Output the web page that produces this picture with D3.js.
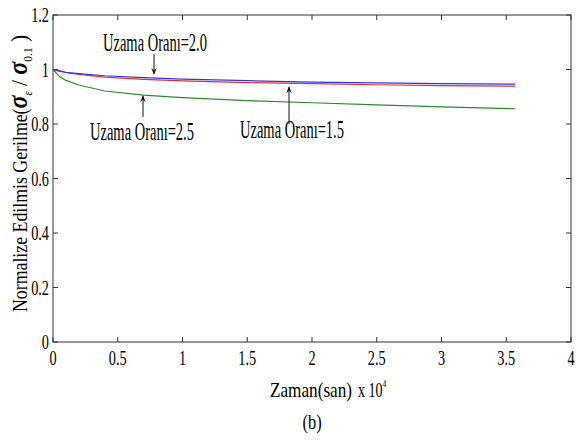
<!DOCTYPE html>
<html>
<head>
<meta charset="utf-8">
<script src="https://cdn.jsdelivr.net/npm/d3@7"></script>
<style>
body { margin: 0; background: #fff; }
</style>
</head>
<body>
<div id="chart"></div>
<script>
// zaman (x 10^4 san)
var zaman = [0, 0.05, 0.1, 0.2, 0.4, 0.7, 1.0, 1.5, 2.0, 2.5, 3.0, 3.57];
var oran20 = [1.0, 0.995, 0.99, 0.985, 0.977, 0.970, 0.965, 0.959, 0.954, 0.951, 0.948, 0.946];
var oran15 = [1.0, 0.994, 0.988, 0.982, 0.972, 0.964, 0.958, 0.952, 0.948, 0.944, 0.941, 0.939];
var oran25 = [1.0, 0.974, 0.96, 0.943, 0.921, 0.906, 0.897, 0.886, 0.878, 0.870, 0.863, 0.856];
var xTicks = [0, 0.5, 1, 1.5, 2, 2.5, 3, 3.5, 4];
var yTicks = [0, 0.2, 0.4, 0.6, 0.8, 1, 1.2];

var W = 576, H = 441;
var pL = 53, pR = 571, pT = 15, pB = 342;

var svg = d3.select("#chart").append("svg")
    .attr("width", W)
    .attr("height", H)
    .attr("font-family", "'Liberation Serif', 'Times New Roman', serif");

var x = d3.scaleLinear().domain([0, 4]).range([pL, pR]);
var y = d3.scaleLinear().domain([0, 1.2]).range([pB, pT]);

// box
svg.append("rect")
    .attr("x", pL).attr("y", pT)
    .attr("width", pR - pL).attr("height", pB - pT)
    .attr("fill", "none").attr("stroke", "#333").attr("stroke-width", 1);

// ticks, inward on all four sides
var tk = 5;
svg.selectAll(".xtb").data(xTicks).enter().append("line")
    .attr("x1", d => x(d)).attr("x2", d => x(d))
    .attr("y1", pB).attr("y2", pB - tk)
    .attr("stroke", "#333");
svg.selectAll(".xtt").data(xTicks).enter().append("line")
    .attr("x1", d => x(d)).attr("x2", d => x(d))
    .attr("y1", pT).attr("y2", pT + tk)
    .attr("stroke", "#333");
svg.selectAll(".ytl").data(yTicks).enter().append("line")
    .attr("x1", pL).attr("x2", pL + tk)
    .attr("y1", d => y(d)).attr("y2", d => y(d))
    .attr("stroke", "#333");
svg.selectAll(".ytr").data(yTicks).enter().append("line")
    .attr("x1", pR).attr("x2", pR - tk)
    .attr("y1", d => y(d)).attr("y2", d => y(d))
    .attr("stroke", "#333");

// tick labels (condensed serif)
svg.selectAll(".xl").data(xTicks).enter().append("text")
    .attr("transform", d => "translate(" + x(d) + "," + 365 + ") scale(0.65,1)")
    .attr("text-anchor", "middle")
    .attr("font-size", 22)
    .text(d => d);
svg.selectAll(".yl").data(yTicks).enter().append("text")
    .attr("transform", d => "translate(" + (pL - 4) + "," + (y(d) + 7) + ") scale(0.65,1)")
    .attr("text-anchor", "end")
    .attr("font-size", 22)
    .text(d => d);

// lines
var line = d3.line()
    .x((d, i) => x(zaman[i]))
    .y(d => y(d));

svg.append("path").datum(oran25)
    .attr("d", line).attr("fill", "none")
    .attr("stroke", "#2f8a2f").attr("stroke-width", 1.2);
svg.append("path").datum(oran15)
    .attr("d", line).attr("fill", "none")
    .attr("stroke", "#e03030").attr("stroke-width", 1.2);
svg.append("path").datum(oran20)
    .attr("d", line).attr("fill", "none")
    .attr("stroke", "#3535e0").attr("stroke-width", 1.2);

// annotations
svg.append("defs").append("marker")
    .attr("id", "arr").attr("viewBox", "0 0 10 10")
    .attr("refX", 9).attr("refY", 5)
    .attr("markerWidth", 7).attr("markerHeight", 7)
    .attr("orient", "auto")
    .append("path").attr("d", "M0,1 L10,5 L0,9 L4,5 z").attr("fill", "#111");

function label(txt, tx, ty, ax, ay1, ay2) {
    svg.append("text")
        .attr("transform", "translate(" + tx + "," + ty + ") scale(0.58,1)")
        .attr("text-anchor", "middle")
        .attr("font-size", 25)
        .text(txt);
    svg.append("line")
        .attr("x1", ax).attr("x2", ax)
        .attr("y1", ay1).attr("y2", ay2)
        .attr("stroke", "#111").attr("stroke-width", 1)
        .attr("marker-end", "url(#arr)");
}
label("Uzama Oranı=2.0", 155, 51, 154, 54, 74);
label("Uzama Oranı=2.5", 142, 140, 143, 117, 96);
label("Uzama Oranı=1.5", 292, 138, 289, 124, 87);

// axis titles
svg.append("text")
    .attr("transform", "translate(" + 311 + "," + 397 + ") scale(0.86,1)")
    .attr("text-anchor", "middle")
    .attr("font-size", 20)
    .text("Zaman(san)");
var xt = svg.append("text")
    .attr("transform", "translate(" + 358 + "," + 397 + ") scale(0.7,1)")
    .attr("font-size", 20);
xt.append("tspan").text("x 10");
xt.append("tspan").attr("font-size", 11).attr("dy", -10).text("4");

svg.append("text")
    .attr("transform", "translate(" + 312 + "," + 429 + ") scale(0.75,1)")
    .attr("text-anchor", "middle")
    .attr("font-size", 22)
    .text("(b)");

var yl = svg.append("text")
    .attr("transform", "translate(" + 27 + "," + 312 + ") rotate(-90) scale(0.89,1)")
    .attr("text-anchor", "start")
    .attr("font-size", 20);
yl.append("tspan").text("Normalize Edilmis Gerilme(");
yl.append("tspan").attr("font-style", "italic").attr("font-weight", "bold").attr("font-size", 27).text("σ");
yl.append("tspan").attr("font-style", "italic").attr("font-size", 12).attr("dy", 5).text("ε");
yl.append("tspan").attr("font-size", 24).attr("dy", -5).text(" / ");
yl.append("tspan").attr("font-style", "italic").attr("font-weight", "bold").attr("font-size", 27).text("σ");
yl.append("tspan").attr("font-size", 13).attr("dy", 5).text("0.1");
yl.append("tspan").attr("font-size", 24).attr("dy", -5).text(" )");
</script>
</body>
</html>
